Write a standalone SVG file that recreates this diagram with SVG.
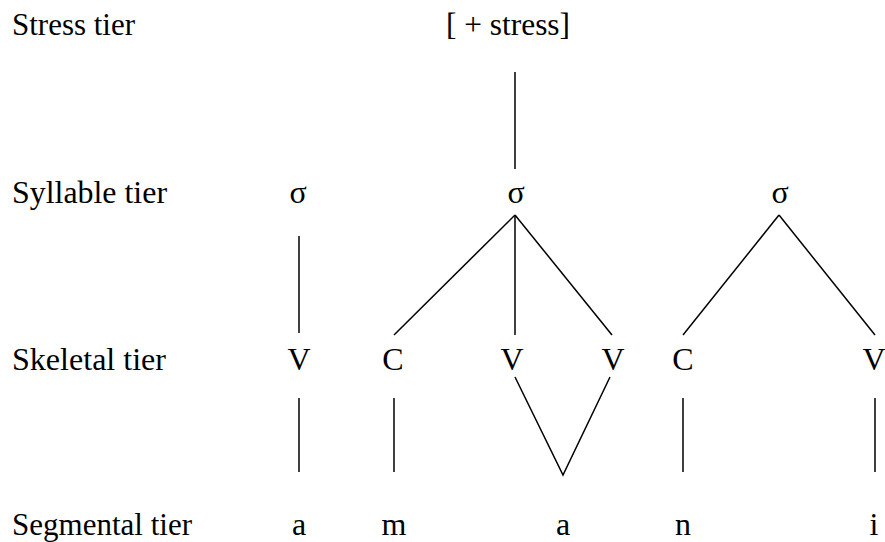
<svg xmlns="http://www.w3.org/2000/svg" width="885" height="542" viewBox="0 0 885 542">
<style>
text{font-family:'Liberation Serif','Times New Roman',Times,'DejaVu Serif',serif;font-size:32px;fill:#000}
.c{text-anchor:middle}
.ln line,.ln polyline{stroke:#000;stroke-width:1.5;fill:none}
</style>
<rect width="885" height="542" fill="#fff"/>
<g id="labels">
<text x="12" y="35" textLength="123" lengthAdjust="spacingAndGlyphs">Stress tier</text>
<text x="12" y="203" textLength="155" lengthAdjust="spacingAndGlyphs">Syllable tier</text>
<text x="12" y="370" textLength="154" lengthAdjust="spacingAndGlyphs">Skeletal tier</text>
<text x="12" y="535" textLength="180" lengthAdjust="spacingAndGlyphs">Segmental tier</text>
</g>
<g id="stress"><text x="446" y="35" textLength="124" lengthAdjust="spacingAndGlyphs">[ + stress]</text></g>
<g id="syl1"><text class="c" x="298" y="203">σ</text></g>
<g id="syl2"><text class="c" x="516" y="203">σ</text></g>
<g id="syl3"><text class="c" x="780" y="203">σ</text></g>
<g id="sk1"><text class="c" x="299" y="370">V</text></g>
<g id="sk2"><text class="c" x="393" y="370">C</text></g>
<g id="sk3"><text class="c" x="512" y="370">V</text></g>
<g id="sk4"><text class="c" x="613" y="370">V</text></g>
<g id="sk5"><text class="c" x="683" y="370">C</text></g>
<g id="sk6"><text class="c" x="874" y="370">V</text></g>
<g id="seg1"><text class="c" x="299" y="535">a</text></g>
<g id="seg2"><text class="c" x="394" y="535">m</text></g>
<g id="seg3"><text class="c" x="563" y="535">a</text></g>
<g id="seg4"><text class="c" x="683" y="535">n</text></g>
<g id="seg5"><text class="c" x="874" y="535">i</text></g>
<g id="connectors" class="ln">
<line x1="515" y1="72" x2="515" y2="169"/>
<line x1="299" y1="236" x2="299" y2="333"/>
<line x1="515" y1="215" x2="394" y2="335"/>
<line x1="515" y1="215" x2="515" y2="335"/>
<line x1="515" y1="215" x2="612" y2="335"/>
<line x1="779" y1="215" x2="683" y2="335"/>
<line x1="779" y1="215" x2="875" y2="335"/>
<line x1="299" y1="398" x2="299" y2="472"/>
<line x1="394" y1="398" x2="394" y2="472"/>
<polyline points="515,377 563,475 610,377"/>
<line x1="683" y1="398" x2="683" y2="472"/>
<line x1="875" y1="398" x2="875" y2="472"/>
</g>
</svg>
